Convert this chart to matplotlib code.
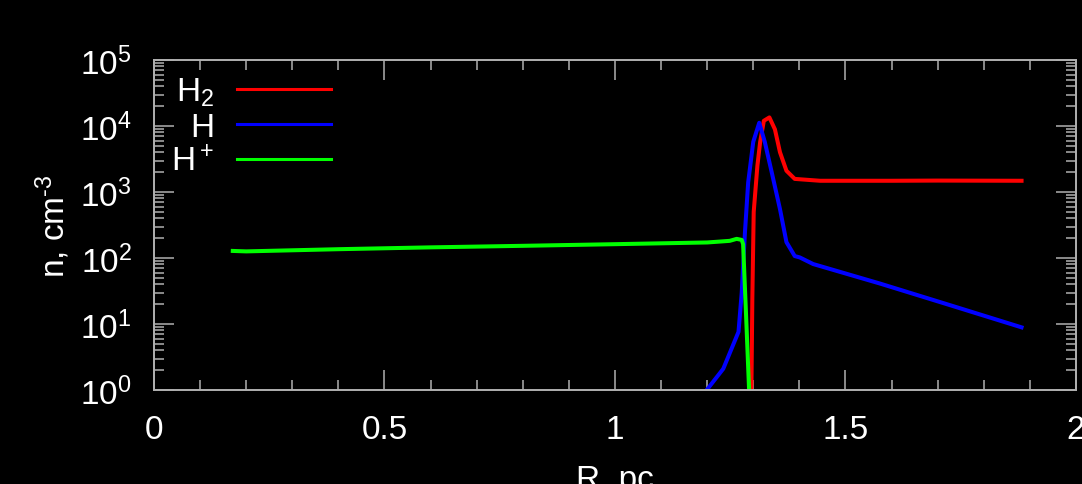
import matplotlib
matplotlib.use("Agg")
import matplotlib.pyplot as plt
from matplotlib.ticker import FixedLocator, LogLocator, NullFormatter, FixedFormatter

# H2 density profile
r_h2 = [1.294, 1.296, 1.298, 1.301, 1.309, 1.315, 1.323, 1.335, 1.347, 1.358,
        1.372, 1.390, 1.445, 1.60, 1.70, 1.882]
n_h2 = [0.5, 1.0, 24, 500, 2500, 5750, 12000, 13500, 8900, 4000,
        2100, 1580, 1480, 1480, 1490, 1480]

# atomic H density profile
r_h = [1.18, 1.199, 1.235, 1.268, 1.275, 1.282, 1.289, 1.300, 1.313, 1.325,
       1.340, 1.358, 1.372, 1.390, 1.401, 1.43, 1.575, 1.73, 1.882]
n_h = [0.6, 1.0, 2.1, 7.6, 30, 245, 1400, 5750, 11200, 5750,
       2000, 550, 174, 107, 102, 81, 41, 19, 8.9]

# H+ density profile
r_hp = [0.171, 0.20, 0.40, 0.60, 0.80, 1.00, 1.141, 1.20, 1.23, 1.249,
        1.264, 1.275, 1.278, 1.284, 1.291, 1.293]
n_hp = [128, 126, 136, 145, 153, 162, 169, 172, 178, 182,
        195, 188, 162, 16, 1.0, 0.6]

x_ticks = [0, 0.5, 1, 1.5, 2]
x_labels = ["0", "0.5", "1", "1.5", "2"]
y_ticks = [1, 10, 100, 1e3, 1e4, 1e5]
y_labels = [r"$\mathregular{10^{%d}}$" % k for k in range(6)]

plt.rcParams["font.family"] = ["Liberation Sans", "DejaVu Sans"]
plt.rcParams["mathtext.fontset"] = "custom"
plt.rcParams["mathtext.rm"] = "Liberation Sans"
plt.rcParams["mathtext.it"] = "Liberation Sans:italic"

axis_col = "#b0b0b0"

fig = plt.figure(figsize=(10.82, 4.85), dpi=100, facecolor="black")
ax = fig.add_axes([0.1423, 0.1938, 0.8521, 0.6804], facecolor="black")

ax.plot(r_h2, n_h2, color="#ff0000", lw=2.9, label=r"$\mathregular{H_2}$")
ax.plot(r_h, n_h, color="#0000ff", lw=2.9, label="H")
ax.plot(r_hp, n_hp, color="#00ff00", lw=2.9, label=r"$\mathregular{H^+}$")

ax.set_yscale("log")
ax.set_xlim(0, 2)
ax.set_ylim(1, 1e5)

ax.xaxis.set_major_locator(FixedLocator(x_ticks))
ax.xaxis.set_major_formatter(FixedFormatter(x_labels))
ax.xaxis.set_minor_locator(FixedLocator([i / 10 for i in range(21)]))
ax.yaxis.set_major_locator(FixedLocator(y_ticks))
ax.yaxis.set_major_formatter(FixedFormatter(y_labels))
ax.yaxis.set_minor_locator(LogLocator(base=10, subs=range(2, 10), numticks=20))
ax.yaxis.set_minor_formatter(NullFormatter())

ax.tick_params(which="both", direction="in", top=True, right=True,
               color=axis_col, labelcolor="white", labelsize=24, width=1.1)
ax.tick_params(which="major", length=14.5)
ax.tick_params(which="minor", length=7.2)
ax.tick_params(axis="x", pad=17)
ax.tick_params(axis="y", pad=16)

for sp in ax.spines.values():
    sp.set_color(axis_col)
    sp.set_linewidth(1.4)

ax.set_xlabel("R, pc", color="white", fontsize=24, labelpad=14)
ax.set_ylabel(r"n, cm$^{\text{-3}}$", color="white", fontsize=24, labelpad=6)

leg = ax.legend(loc="upper left", bbox_to_anchor=(-0.003, 1.012), frameon=False,
                markerfirst=False, fontsize=24, handlelength=2.8,
                handletextpad=0.7, labelspacing=0.1, borderaxespad=0.2)
for line in leg.get_lines():
    line.set_linewidth(2.2)
for t in leg.get_texts():
    t.set_color("white")

fig.savefig("out.png", dpi=100, facecolor="black")
